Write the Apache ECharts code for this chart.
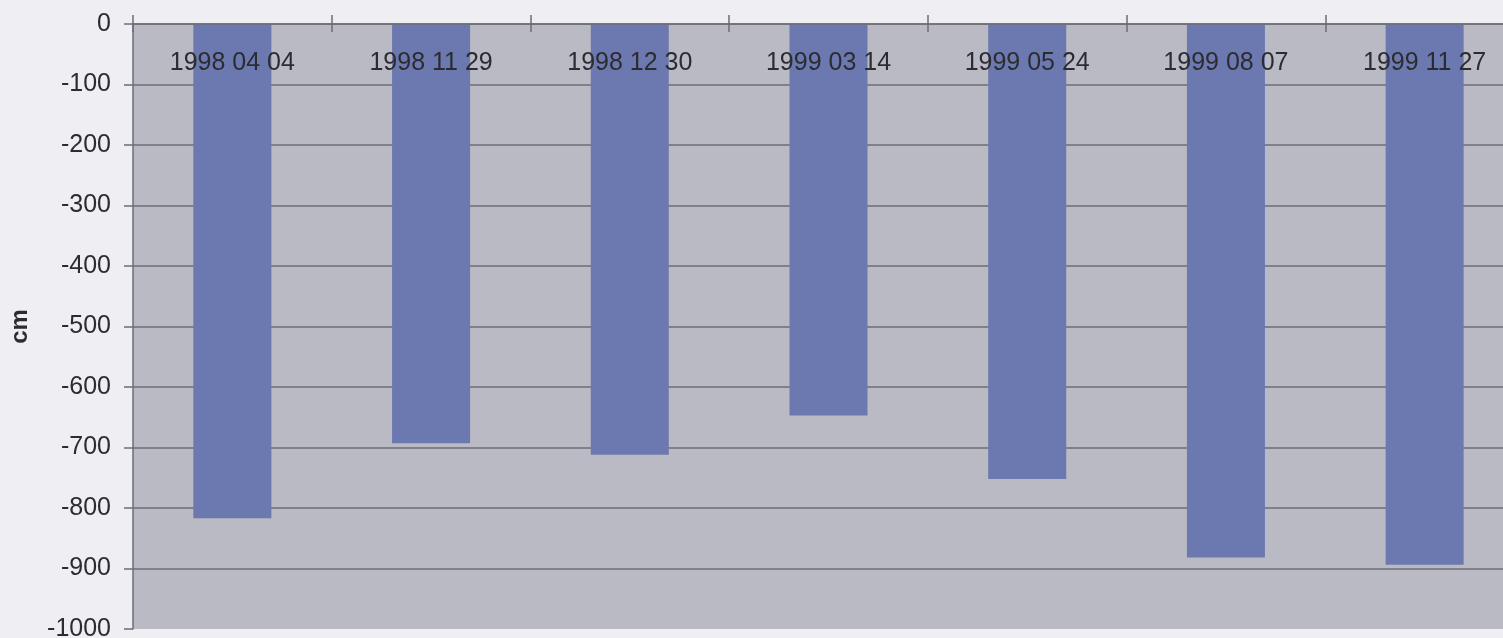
<!DOCTYPE html>
<html>
<head>
<meta charset="utf-8">
<style>
  html, body { margin: 0; padding: 0; background: #eeeef3; }
  #chart { width: 1503px; height: 638px; }
</style>
<script src="https://cdn.jsdelivr.net/npm/echarts@6/dist/echarts.min.js"></script>
</head>
<body>
<div id="chart"></div>
<script>
// Measurement dates (category axis) and water-table depth in cm
const dates = ['1998 04 04', '1998 11 29', '1998 12 30', '1999 03 14', '1999 05 24', '1999 08 07', '1999 11 27'];
const depths = [-817, -693, -712, -647, -752, -882, -894];
const yTicks = { min: -1000, max: 0, step: 100 };
const yName = 'cm';

const chart = echarts.init(document.getElementById('chart'), null, { renderer: 'canvas' });

const textColor = '#2c2c30';
const lineColor = '#6e6e74';
const font = 'Liberation Sans, Arial, sans-serif';

chart.setOption({
  backgroundColor: '#eeeef3',
  animation: false,
  grid: {
    left: 133, right: -21, top: 24, bottom: 9,
    outerBoundsMode: 'none',
    containLabel: false,
    show: true,
    backgroundColor: '#b9bac3',
    borderWidth: 0
  },
  xAxis: [
    {
      type: 'category',
      data: dates,
      position: 'top',
      boundaryGap: true,
      z: 10,
      axisLine: { show: true, lineStyle: { color: lineColor, width: 1.5 } },
      axisTick: { show: true, length: 9, lineStyle: { color: lineColor, width: 1.5 } },
      axisLabel: {
        inside: true,
        margin: 27,
        color: textColor,
        fontFamily: font,
        fontSize: 25,
        interval: 0
      },
      splitLine: { show: false }
    },
    {
      // inner half of the crossing tick marks
      type: 'category',
      data: dates,
      position: 'top',
      offset: 0,
      boundaryGap: true,
      z: 10,
      axisLine: { show: false },
      axisTick: { show: true, inside: true, length: 8, lineStyle: { color: lineColor, width: 1.5 } },
      axisLabel: { show: false },
      splitLine: { show: false }
    }
  ],
  yAxis: {
    type: 'value',
    min: yTicks.min,
    max: yTicks.max,
    interval: yTicks.step,
    name: yName,
    nameLocation: 'middle',
    nameGap: 101,
    nameMoveOverlap: false,
    nameRotate: 90,
    nameTextStyle: {
      color: textColor,
      fontFamily: font,
      fontSize: 24,
      fontWeight: 'bold'
    },
    axisLine: { show: true, lineStyle: { color: lineColor, width: 1.5 } },
    axisTick: { show: true, length: 9, lineStyle: { color: lineColor, width: 1.5 } },
    axisLabel: {
      margin: 22,
      color: textColor,
      fontFamily: font,
      fontSize: 25,
      formatter: (v) => String(v)
    },
    splitLine: {
      show: true,
      showMinLine: false,
      lineStyle: { color: lineColor, width: 1.5 }
    }
  },
  series: [{
    type: 'bar',
    data: depths,
    barWidth: 78,
    itemStyle: { color: '#6c79b1' }
  }]
});
</script>
</body>
</html>
